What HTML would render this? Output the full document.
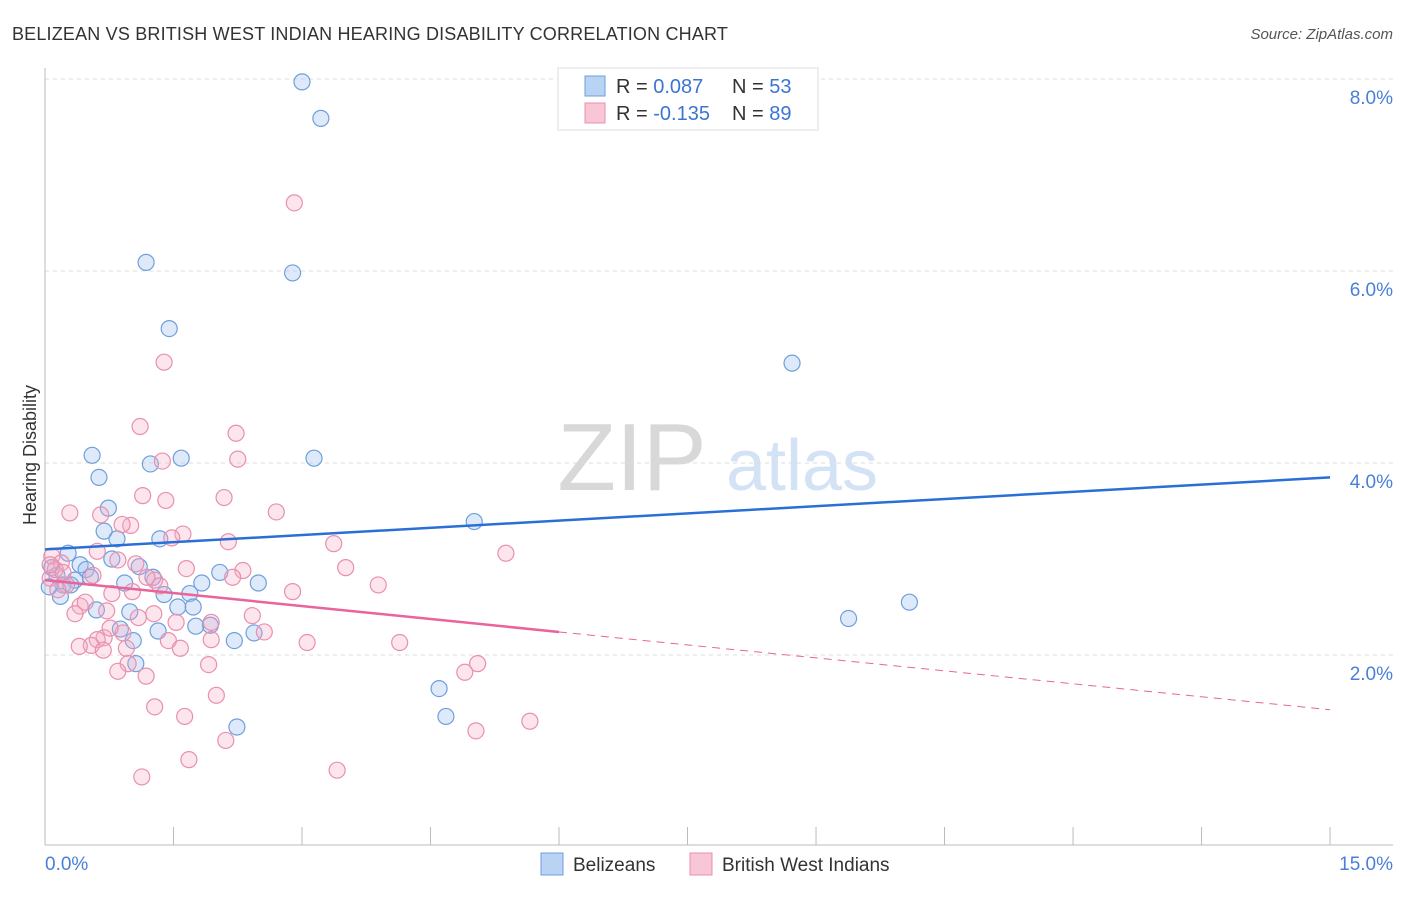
<!DOCTYPE html>
<html><head><meta charset="utf-8"><style>
body{margin:0;background:#fff;font-family:"Liberation Sans",sans-serif}
svg text{font-family:"Liberation Sans",sans-serif}
</style></head><body>
<svg id="chart" width="1406" height="892">
<text x="12" y="40" font-size="18" fill="#333" letter-spacing="0.18">BELIZEAN VS BRITISH WEST INDIAN HEARING DISABILITY CORRELATION CHART</text>
<text x="1393" y="39" font-size="15" fill="#555" font-style="italic" text-anchor="end">Source: ZipAtlas.com</text>
<text x="632" y="490" font-size="96" fill="#d8d8d8" font-family="Liberation Serif" text-anchor="middle">ZIP</text>
<text x="802" y="490" font-size="72" fill="#d3e2f5" text-anchor="middle">atlas</text>
<g id="grid"></g><g id="axes"></g><g id="marks"></g><g id="lines"></g>
<text x="36" y="455" font-size="18" fill="#333" text-anchor="middle" transform="rotate(-90 36 455)">Hearing Disability</text>
<g>
<rect x="558" y="68" width="260" height="62" fill="#fff" stroke="#ddd"/>
<rect x="585" y="76" width="20" height="20" fill="#b9d3f5" stroke="#6f9fdc"/>
<rect x="585" y="103" width="20" height="20" fill="#f9c6d6" stroke="#e890ae"/>
<text x="616" y="93" font-size="20" fill="#333">R = <tspan fill="#3b75d4">0.087</tspan><tspan x="732">N = </tspan><tspan fill="#3b75d4">53</tspan></text>
<text x="616" y="120" font-size="20" fill="#333">R = <tspan fill="#3b75d4">-0.135</tspan><tspan x="732">N = </tspan><tspan fill="#3b75d4">89</tspan></text>
</g>
<g>
<rect x="541" y="853" width="22" height="22" fill="#b9d3f5" stroke="#6f9fdc"/>
<text x="573" y="871" font-size="19" fill="#333">Belizeans</text>
<rect x="690" y="853" width="22" height="22" fill="#f9c6d6" stroke="#e890ae"/>
<text x="722" y="871" font-size="19" fill="#333">British West Indians</text>
</g>
</svg>
<script>
const blueX=[3.00,3.22,1.18,2.89,1.45,8.72,0.55,1.59,1.23,3.14,0.63,0.74,5.01,0.69,0.84,1.34,0.27,0.78,0.41,0.08,0.48,0.14,1.10,1.26,0.53,0.35,0.93,1.83,2.49,2.04,0.21,0.05,0.18,1.39,1.69,0.60,0.99,1.55,1.73,10.09,9.38,0.88,1.32,1.93,1.76,2.44,2.21,1.03,1.06,4.60,4.68,2.24,0.30];
const blueY=[7.97,7.59,6.09,5.98,5.40,5.04,4.08,4.05,3.99,4.05,3.85,3.53,3.39,3.29,3.21,3.21,3.06,3.00,2.94,2.91,2.89,2.83,2.92,2.81,2.81,2.78,2.75,2.75,2.75,2.86,2.73,2.71,2.61,2.63,2.64,2.47,2.45,2.50,2.50,2.55,2.38,2.27,2.25,2.31,2.30,2.23,2.15,2.15,1.91,1.65,1.36,1.25,2.73];
const pinkX=[2.91,1.39,1.11,2.23,2.25,1.37,1.14,1.41,2.09,0.29,2.70,0.65,1.00,0.90,1.61,1.48,2.14,3.37,5.38,0.61,0.08,0.19,0.85,1.06,1.65,3.51,2.31,0.56,2.19,0.06,1.28,1.19,0.25,3.89,2.89,0.78,1.34,2.42,0.41,0.35,0.72,1.09,1.27,1.53,1.94,2.56,0.91,0.69,0.61,0.54,1.94,3.06,1.44,4.14,0.40,0.95,1.58,0.68,5.05,4.90,0.97,0.85,1.91,1.18,2.00,1.28,1.63,5.66,5.03,2.11,1.68,1.13,3.41,0.12,0.21,0.47,0.06,0.15,1.02,0.76];
const pinkY=[6.71,5.05,4.38,4.31,4.04,4.02,3.66,3.61,3.64,3.48,3.49,3.46,3.35,3.36,3.26,3.22,3.18,3.16,3.06,3.08,3.03,2.96,2.99,2.95,2.90,2.91,2.88,2.83,2.81,2.80,2.78,2.81,2.73,2.73,2.66,2.64,2.72,2.41,2.51,2.43,2.46,2.39,2.43,2.34,2.34,2.24,2.23,2.18,2.16,2.10,2.16,2.13,2.15,2.13,2.09,2.07,2.07,2.05,1.91,1.82,1.91,1.83,1.90,1.78,1.58,1.46,1.36,1.31,1.21,1.11,0.91,0.73,0.80,2.89,2.86,2.55,2.94,2.68,2.66,2.28];
const yTicks=[2,4,6,8];
const yTickLabels=["2.0%","4.0%","6.0%","8.0%"];
const blueFit=[3.10,3.85];
const pinkFit=[2.78,2.24,1.43];
const NS="http://www.w3.org/2000/svg";
const sx=v=>45+v*85.67, sy=v=>847-v*96;
function mk(tag,attrs,parent){const e=document.createElementNS(NS,tag);for(const k in attrs)e.setAttribute(k,attrs[k]);document.getElementById(parent).appendChild(e);return e;}
yTicks.forEach((t,i)=>{
 const g=mk('line',{x1:45,x2:1393,y1:sy(t),y2:sy(t),stroke:'#ddd','stroke-dasharray':'4,4'},'grid');
 
 
 const l=mk('text',{x:1393,y:sy(t)+25,'font-size':19,fill:'#4a7fd8','text-anchor':'end'},'grid');
 l.textContent=yTickLabels[i];
 
 
});
mk('line',{x1:45,x2:45,y1:68,y2:845,stroke:'#bbb'},'axes');
mk('line',{x1:45,x2:1393,y1:845,y2:845,stroke:'#bbb'},'axes');
for(let i=0;i<=10;i++){const t=mk('line',{x1:sx(i*1.5),x2:sx(i*1.5),y1:827,y2:845,stroke:'#bbb'},'axes');
 
 }
let a=mk('text',{x:45,y:870,'font-size':19,fill:'#4a7fd8'},'axes');a.textContent='0.0%';


a=mk('text',{x:1393,y:870,'font-size':19,fill:'#4a7fd8','text-anchor':'end'},'axes');a.textContent='15.0%';


blueX.forEach((x,i)=>{const c=mk('circle',{cx:sx(x),cy:sy(blueY[i]),r:8,fill:'rgba(160,196,240,0.35)',stroke:'#6f9fdc','stroke-width':1.2},'marks');
 
 });
pinkX.forEach((x,i)=>{const c=mk('circle',{cx:sx(x),cy:sy(pinkY[i]),r:8,fill:'rgba(245,170,195,0.3)',stroke:'#e890ae','stroke-width':1.2},'marks');
 
 });
let ln=mk('line',{x1:sx(0),y1:sy(blueFit[0]),x2:sx(15),y2:sy(blueFit[1]),stroke:'#2a6fd6','stroke-width':2.5},'lines');


ln=mk('line',{x1:sx(0),y1:sy(pinkFit[0]),x2:sx(6),y2:sy(pinkFit[1]),stroke:'#e8649a','stroke-width':2.5},'lines');


ln=mk('line',{x1:sx(6),y1:sy(pinkFit[1]),x2:sx(15),y2:sy(pinkFit[2]),stroke:'#e8649a','stroke-width':1,'stroke-dasharray':'8,6'},'lines');


</script>
</body></html>
